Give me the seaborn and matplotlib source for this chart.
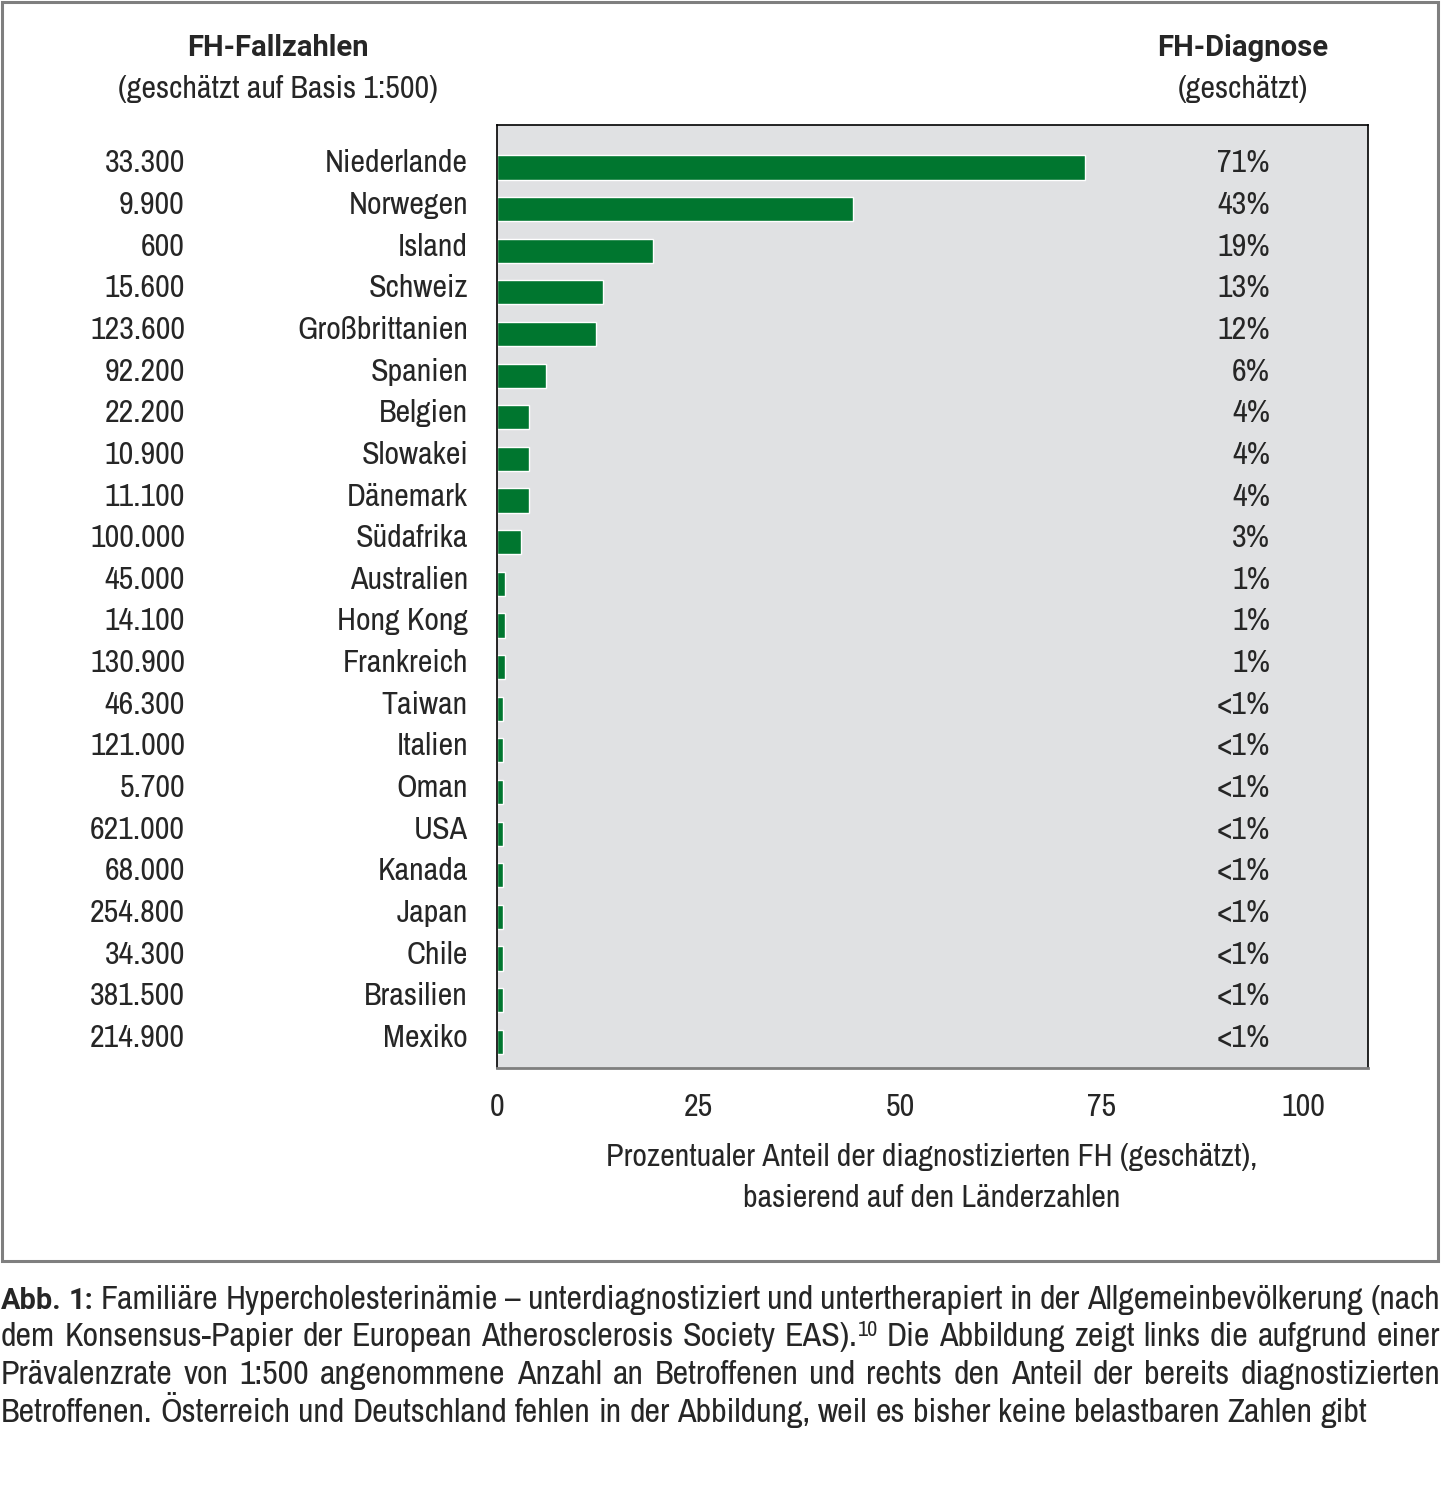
import matplotlib
matplotlib.use("Agg")
import matplotlib.pyplot as plt
import matplotlib.patches as patches
from matplotlib import font_manager
import seaborn as sns
import pandas as pd

# Daten aus der Abbildung
laender = ["Niederlande", "Norwegen", "Island", "Schweiz", "Großbrittanien", "Spanien",
           "Belgien", "Slowakei", "Dänemark", "Südafrika", "Australien", "Hong Kong",
           "Frankreich", "Taiwan", "Italien", "Oman", "USA", "Kanada", "Japan", "Chile",
           "Brasilien", "Mexiko"]
fallzahlen = [33300, 9900, 600, 15600, 123600, 92200, 22200, 10900, 11100, 100000,
              45000, 14100, 130900, 46300, 121000, 5700, 621000, 68000, 254800, 34300,
              381500, 214900]
diagnose_text = ["71%", "43%", "19%", "13%", "12%", "6%", "4%", "4%", "4%", "3%",
                 "1%", "1%", "1%", "<1%", "<1%", "<1%", "<1%", "<1%", "<1%", "<1%",
                 "<1%", "<1%"]
# Balkenlaengen
balken = [72.9, 44.1, 19.4, 13.2, 12.3, 6.1, 4.0, 4.0, 4.0, 3.0, 1.0, 1.0, 1.0,
          0.7, 0.7, 0.7, 0.7, 0.7, 0.7, 0.7, 0.7, 0.7]
xticks = [0, 25, 50, 75, 100]

df = pd.DataFrame({"Land": laender, "Wert": balken})

W, H = 1441, 1486
sns.set_style("white")


def wnum(w):
    if isinstance(w, str):
        return font_manager.weight_dict.get(w, 400)
    return w


# schmale Schrift suchen, sonst Roboto
fonts = font_manager.fontManager.ttflist
haupt, stretch = None, "normal"
for f in fonts:
    if ("Narrow" in f.name or "Condensed" in f.name) and f.style == "normal":
        haupt = f.name
        break
if haupt is None:
    for f in fonts:
        if f.stretch in ("condensed", "semi-condensed") and f.style == "normal":
            haupt, stretch = f.name, f.stretch
            break
if haupt is None:
    haupt = "Roboto"
gewichte = [wnum(f.weight) for f in fonts if f.name == haupt]
gewicht = 300 if 300 in gewichte else "normal"
if any(g >= 600 for g in gewichte):
    fett_familie = [haupt, "DejaVu Sans"]
else:
    fett_familie = ["Roboto", "Liberation Sans", "DejaVu Sans"]

plt.rcParams["font.family"] = [haupt, "DejaVu Sans"]
plt.rcParams["font.weight"] = gewicht
plt.rcParams["font.stretch"] = stretch

gruen = "#00762f"

fig = plt.figure(figsize=(W / 100, H / 100), dpi=100)
renderer = fig.canvas.get_renderer()


def passend(text, breite, **kw):
    # Schriftgroesse so waehlen, dass der Text die Breite der Vorlage hat
    p = fig.text(0, 0, text, fontsize=20, **kw)
    b = p.get_window_extent(renderer).width
    p.remove()
    return 20 * breite / b


fs = passend("Niederlande", 143)
fs_fett1 = passend("FH-Fallzahlen", 181, family=fett_familie, fontweight="bold")
fs_fett2 = passend("FH-Diagnose", 171, family=fett_familie, fontweight="bold")

ax = fig.add_axes([497 / W, 1 - 1068 / H, (1368 - 497) / W, (1068 - 125) / H])
ax.set_facecolor("#e0e1e3")

sns.barplot(data=df, x="Wert", y="Land", color=gruen, width=0.58, saturation=1,
            ax=ax, orient="h")

ax.set_xlim(0, 108)
ax.set_ylim(21.63, -1.02)
ax.set_xticks(xticks)
ax.set_xticklabels([str(t) for t in xticks], fontsize=fs)
ax.set_yticks([])
ax.set_xlabel("")
ax.set_ylabel("")
ax.tick_params(axis="x", direction="out", length=9, width=1, color="#7f7f7f", pad=9)
ax.xaxis.get_major_ticks()[0].tick1line.set_color("black")
for s in ["top", "left", "right"]:
    ax.spines[s].set_color("black")
    ax.spines[s].set_linewidth(1.2)
ax.spines["bottom"].set_color("#7f7f7f")
ax.spines["bottom"].set_linewidth(2)

for i, land in enumerate(laender):
    ax.annotate(land, xy=(0, i), xycoords=ax.get_yaxis_transform(),
                xytext=(-29, -5), textcoords="offset pixels",
                ha="right", va="baseline", fontsize=fs)
    zahl = f"{fallzahlen[i]:,}".replace(",", ".")
    ax.annotate(zahl, xy=(0, i), xycoords=ax.get_yaxis_transform(),
                xytext=(185 - 497, -5), textcoords="offset pixels",
                ha="right", va="baseline", fontsize=fs)
    ax.annotate(diagnose_text[i], xy=(0, i), xycoords=ax.get_yaxis_transform(),
                xytext=(1270 - 497, -5), textcoords="offset pixels",
                ha="right", va="baseline", fontsize=fs)


def ftext(x, y, s, **kw):
    return fig.text(x / W, 1 - y / H, s, **kw)


ftext(278, 56, "FH-Fallzahlen", ha="center", va="baseline", fontsize=fs_fett1,
      family=fett_familie, fontweight="bold")
ftext(278, 98, "(geschätzt auf Basis 1:500)", ha="center", va="baseline", fontsize=fs)
ftext(1243, 56, "FH-Diagnose", ha="center", va="baseline", fontsize=fs_fett2,
      family=fett_familie, fontweight="bold")
ftext(1243, 98, "(geschätzt)", ha="center", va="baseline", fontsize=fs)
ftext(932, 1166, "Prozentualer Anteil der diagnostizierten FH (geschätzt),",
      ha="center", va="baseline", fontsize=fs)
ftext(932, 1207, "basierend auf den Länderzahlen", ha="center", va="baseline", fontsize=fs)

# Rahmen um die Grafik
fig.patches.append(patches.Rectangle((2 / W, 1 - 1261 / H), 1436 / W, 1259 / H,
                                     transform=fig.transFigure, fill=False,
                                     edgecolor="#7f7f7f", linewidth=2.2))

# Bildunterschrift (Blocksatz)
letzte = "Betroffenen. Österreich und Deutschland fehlen in der Abbildung, weil es bisher keine belastbaren Zahlen gibt"
cfs = passend(letzte, 1366)
fs_abb = passend("Abb. 1:", 92, family=fett_familie, fontweight="bold")

N = {"weight": gewicht}
F = {"weight": "bold", "family": fett_familie, "size": fs_abb}
zeilen = [
    [[("Abb.", F, 0)], [("1:", F, 0)]] +
    [[(w, N, 0)] for w in "Familiäre Hypercholesterinämie – unterdiagnostiziert und untertherapiert in der Allgemeinbevölkerung (nach".split()],
    [[(w, N, 0)] for w in "dem Konsensus-Papier der European Atherosclerosis Society".split()] +
    [[("EAS).", N, 0), ("10", N, 1)]] +
    [[(w, N, 0)] for w in "Die Abbildung zeigt links die aufgrund einer".split()],
    [[(w, N, 0)] for w in "Prävalenzrate von 1:500 angenommene Anzahl an Betroffenen und rechts den Anteil der bereits diagnostizierten".split()],
    [[(w, N, 0)] for w in letzte.split()],
]
x0, x1 = 1, 1440
for zi, zeile in enumerate(zeilen):
    y = 1309 + zi * 37.5
    objs = []
    for wort in zeile:
        teile = []
        for txt, stil, sup in wort:
            t = ftext(0, y - (10 if sup else 0), txt, ha="left", va="baseline",
                      fontsize=stil.get("size", cfs * (0.65 if sup else 1)),
                      fontweight=stil["weight"],
                      family=stil.get("family", [haupt, "DejaVu Sans"]))
            teile.append((t, t.get_window_extent(renderer).width))
        objs.append(teile)
    breiten = [sum(b for _, b in w) for w in objs]
    ziel = x1 if zi < len(zeilen) - 1 else 1367
    luecke = (ziel - x0 - sum(breiten)) / (len(objs) - 1)
    x = x0
    for teile, b in zip(objs, breiten):
        xx = x
        for t, tb in teile:
            t.set_x(xx / W)
            xx += tb
        x += b + luecke

fig.savefig("out.png", dpi=100)
